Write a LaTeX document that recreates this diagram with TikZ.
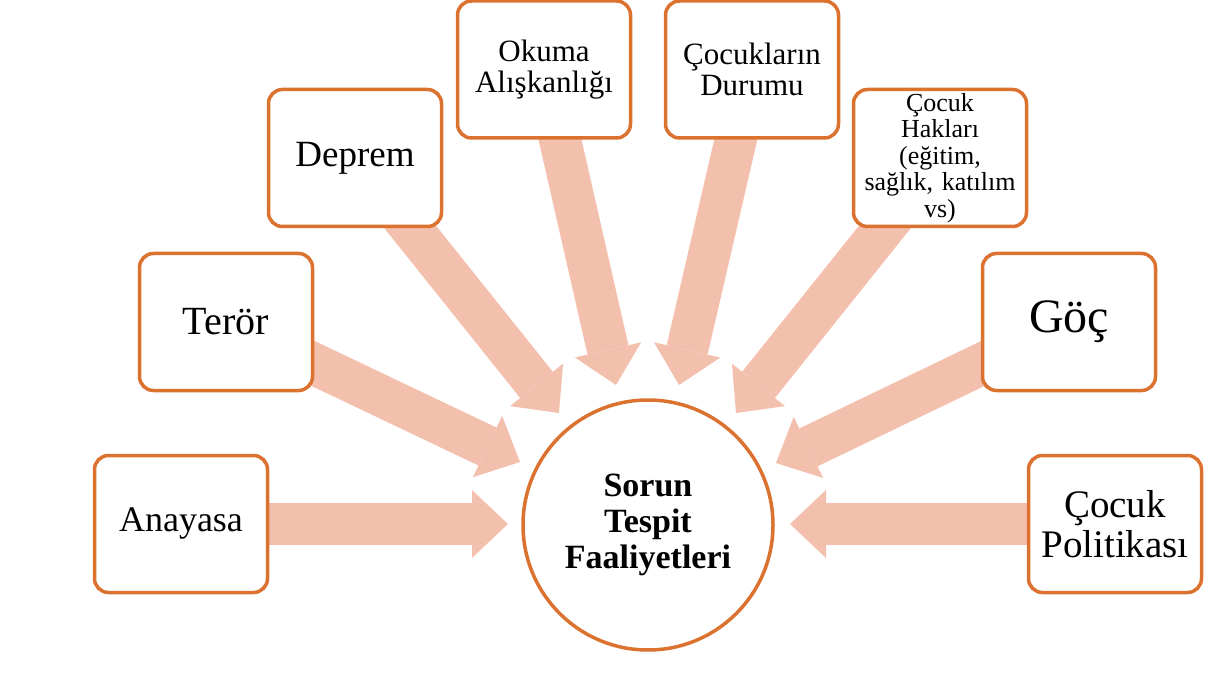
\documentclass[tikz,border=0pt]{standalone}
\usepackage{fontspec}
\setmainfont{Liberation Serif}
\usetikzlibrary{arrows.meta,backgrounds}
\definecolor{boxc}{HTML}{DC7230}
\definecolor{arrc}{HTML}{F4C0AE}
\begin{document}
\begin{tikzpicture}[x=1pt,y=-1pt,
  box/.style={draw=boxc, line width=3.5pt, rounded corners=14pt, fill=white,
    minimum width=173pt, minimum height=137pt, align=center, inner sep=0pt, text width=170pt},
  hub/.style={circle, draw=boxc, line width=3.5pt, fill=white, minimum size=250pt,
    align=center, inner sep=0pt},
  flow/.style={draw=arrc, line width=42pt, -{Triangle[length=36pt,width=68pt,line width=0pt]}}]
\useasboundingbox (0,0) rectangle (1219,695);
\node[hub, font=\bfseries\fontsize{34}{36}\selectfont] (hub) at (648,525) {Sorun\\Tespit\\Faaliyetleri};
\node[box, font=\fontsize{36}{40}\selectfont] (anayasa) at (181,524) {Anayasa};
\node[box, font=\fontsize{40}{44}\selectfont] (teror) at (226,322) {Terör};
\node[box, font=\fontsize{37}{40}\selectfont] (deprem) at (355,158) {Deprem};
\node[box, font=\fontsize{31}{31}\selectfont] (okuma) at (544,69.5) {Okuma\\Alışkanlığı};
\node[box, font=\fontsize{31}{31}\selectfont] (durum) at (752,69.5) {Çocukların\\Durumu};
\node[box, font=\fontsize{26}{26.5}\selectfont] (haklar) at (940,158) {Çocuk\\Hakları\\(eğitim,\\sağlık, katılım\\vs)};
\node[box, font=\fontsize{48}{50}\selectfont] (goc) at (1069,322) {Göç};
\node[box, font=\fontsize{39}{40}\selectfont] (politika) at (1115,524) {Çocuk\\Politikası};
\coordinate (tA) at (508,524);
\coordinate (tT) at (520,462);
\coordinate (tD) at (559,413);
\coordinate (tO) at (616,385);
\coordinate (tC) at (679,385);
\coordinate (tH) at (736,413);
\coordinate (tG) at (776,463);
\coordinate (tP) at (790,524);
\begin{scope}[on background layer]
\draw[flow] (anayasa.center) -- (tA);
\draw[flow] (teror.center) -- (tT);
\draw[flow] (deprem.center) -- (tD);
\draw[flow] (okuma.center) -- (tO);
\draw[flow] (durum.center) -- (tC);
\draw[flow] (haklar.center) -- (tH);
\draw[flow] (goc.center) -- (tG);
\draw[flow] (politika.center) -- (tP);
\end{scope}
\end{tikzpicture}
\end{document}
